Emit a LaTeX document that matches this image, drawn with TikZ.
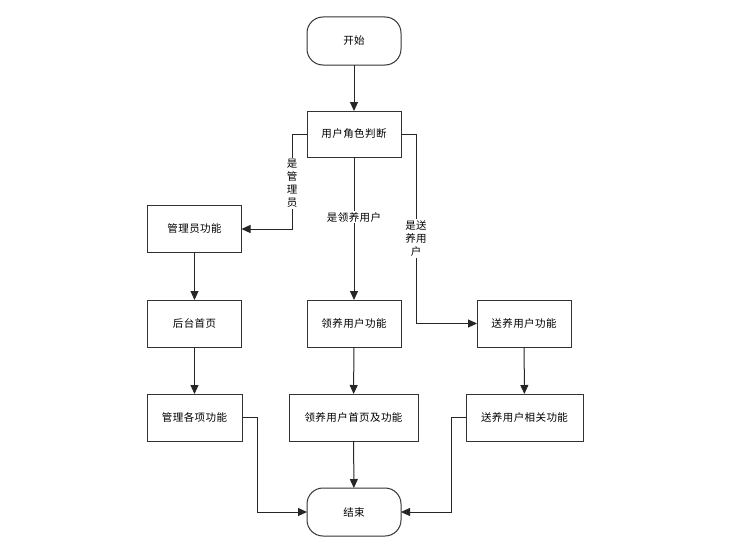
\documentclass[tikz,border=0pt]{standalone}
\usepackage{fontspec}
\setmainfont{Noto Sans CJK SC}[LetterSpace=4]
\usetikzlibrary{arrows.meta}
\begin{document}
\begin{tikzpicture}[x=1pt,y=1pt,
  font=\fontsize{10.5}{13}\selectfont,
  box/.style={draw=black!80,line width=1pt,minimum height=47pt,inner sep=0pt,outer sep=0pt,fill=white},
  term/.style={box,rounded corners=16pt,minimum width=94pt,minimum height=48pt},
  arr/.style={draw=black!85,line width=1pt,-{Triangle[length=9pt,width=8pt]}},
  lbl/.style={fill=white,inner sep=1.5pt,align=center,font=\fontsize{10.5}{13}\selectfont}]
\useasboundingbox (0,0) rectangle (735,-551);
\node[term] (start) at (354,-41) {开始};
\node[box,minimum width=94pt,minimum height=46pt] (judge) at (354,-134) {用户角色判断};
\node[box,minimum width=94pt] (admin) at (194.5,-229) {管理员功能};
\node[box,minimum width=94pt] (home) at (194.5,-323.5) {后台首页};
\node[box,minimum width=95pt] (manage) at (194.5,-417.5) {管理各项功能};
\node[box,minimum width=94pt] (adopt) at (354,-323.5) {领养用户功能};
\node[box,minimum width=129pt] (adopthome) at (353.5,-417.5) {领养用户首页及功能};
\node[box,minimum width=94pt] (give) at (524,-323.5) {送养用户功能};
\node[box,minimum width=117pt] (giverel) at (524.5,-417.5) {送养用户相关功能};
\node[term] (end) at (354,-512) {结束};

\coordinate (l1) at (292,-134);
\coordinate (l2) at (292,-229);
\coordinate (r1) at (416,-134);
\coordinate (r2) at (416,-323.5);
\coordinate (m1) at (257,-417.5);
\coordinate (m2) at (257,-512);
\coordinate (g1) at (451,-417.5);
\coordinate (g2) at (451,-512);

\draw[arr] (start) -- (judge);
\draw[arr] (judge.west) -- (l1) -- node[lbl,pos=0.52]{是\\管\\理\\员} (l2) -- (admin.east);
\draw[arr] (judge) -- node[lbl,pos=0.42]{是领养用户} (adopt);
\draw[arr] (judge.east) -- (r1) -- node[lbl,pos=0.55]{是送\\养用\\户} (r2) -- (give.west);
\draw[arr] (admin) -- (home);
\draw[arr] (home) -- (manage);
\draw[arr] (adopt) -- (adopthome);
\draw[arr] (adopthome) -- (end);
\draw[arr] (give) -- (giverel);
\draw[arr] (manage.east) -- (m1) -- (m2) -- (end.west);
\draw[arr] (giverel.west) -- (g1) -- (g2) -- (end.east);
\end{tikzpicture}
\end{document}
